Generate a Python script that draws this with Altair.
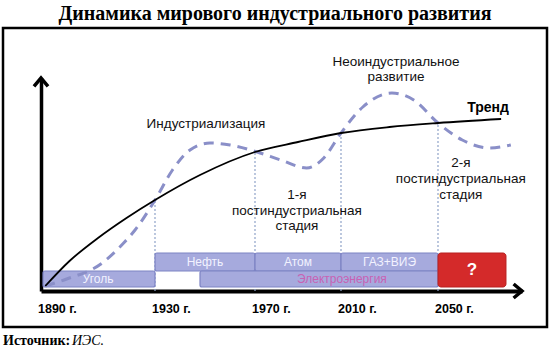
import altair as alt
import pandas as pd

# ---- data (years, arbitrary level units) ----
trend_year = [1891.5, 1900, 1910, 1920, 1930, 1948, 1970, 1990, 2010, 2030, 2050, 2076]
trend_level = [5, 30, 53, 73, 91, 116, 139, 149, 158, 164, 168, 172]

wave_year = [1891.5, 1899, 1911, 1919, 1923, 1930, 1937, 1944, 1952, 1960, 1971, 1982,
             1994, 2002, 2010, 2019, 2031, 2040, 2050, 2060, 2071, 2080]
wave_level = [5, 12, 27, 48, 61, 91, 121, 141, 148, 146, 139, 131,
              123, 133, 158, 184, 198, 191, 168, 151, 143, 146]

tick_years = [1890, 1930, 1970, 2010, 2050]
tick_labels = ["1890 г.", "1930 г.", "1970 г.", "2010 г.", "2050 г."]

stage_years = [1930, 1970, 2010, 2050]
stage_levels = [91, 139, 158, 168]

bar_names = ["Уголь", "Нефть", "Атом", "ГАЗ+ВИЭ", "Электроэнергия"]
bar_start = [1890.7, 1930, 1970, 2010, 1948]
bar_end = [1930, 1970, 2010, 2050, 2050]
bar_lo = [4, 20, 20, 20, 4]
bar_hi = [20, 38, 38, 38, 20]
bar_label_year = [1910, 1950, 1990, 2030, 2010.4]

future_start, future_end, future_lo, future_hi = 2050, 2078, 4, 38

ann_text = ["Индустриализация", "1-я", "постиндустриальная", "стадия",
            "Неоиндустриальное", "развитие",
            "2-я", "постиндустриальная", "стадия"]
ann_year = [1950.4, 1989.5, 1989.5, 1989.5, 2032.7, 2032.7, 2059.4, 2059.4, 2059.4]
ann_level = [167, 96, 80, 65, 229, 214, 128, 112, 96]

# ---- scales ----
xs = alt.Scale(domain=[1890, 1930, 1970, 2010, 2050, 2084.6],
               range=[0, 114, 214, 300, 397, 481], nice=False, zero=False)
ys = alt.Scale(domain=[0, 213], nice=False, zero=False)
xaxis = alt.Axis(title=None, labels=False, ticks=False, grid=False, domain=True,
                 domainColor="black", domainWidth=4)
yaxis = alt.Axis(title=None, labels=False, ticks=False, grid=False, domain=True,
                 domainColor="black", domainWidth=3.5)


def X(f):
    return alt.X(f, type="quantitative", scale=xs, axis=xaxis)


def Y(f):
    return alt.Y(f, type="quantitative", scale=ys, axis=yaxis)


trend_df = pd.DataFrame({"year": trend_year, "level": trend_level})
wave_df = pd.DataFrame({"year": wave_year, "level": wave_level})
tick_df = pd.DataFrame({"year": tick_years, "label": tick_labels})
stage_df = pd.DataFrame({"year": stage_years, "level": stage_levels, "base": [0] * 4})
bar_df = pd.DataFrame({"name": bar_names, "x0": bar_start, "x1": bar_end,
                       "lo": bar_lo, "hi": bar_hi, "lx": bar_label_year,
                       "ly": [(a + b) / 2 for a, b in zip(bar_lo, bar_hi)]})
fut_df = pd.DataFrame({"x0": [future_start], "x1": [future_end], "lo": [future_lo],
                       "hi": [future_hi], "lx": [(future_start + future_end) / 2],
                       "ly": [(future_lo + future_hi) / 2], "t": ["?"]})
ann_df = pd.DataFrame({"t": ann_text, "year": ann_year, "level": ann_level})
one = pd.DataFrame({"a": [0]})

stage_rules = alt.Chart(stage_df).mark_rule(color="#8fa3c8", strokeWidth=1.2,
                                             strokeDash=[2, 2]).encode(
    x=X("year"), y=Y("base"), y2="level")

bars = alt.Chart(bar_df).mark_rect(fill="#a6aadd", stroke="#7d83c4", strokeWidth=1.2,
                                   cornerRadius=2).encode(
    x=X("x0"), x2="x1", y=Y("lo"), y2="hi")

bar_text = alt.Chart(bar_df).mark_text(font="Liberation Sans", fontSize=12,
                                       baseline="middle").encode(
    x=X("lx"), y=Y("ly"), text="name",
    color=alt.condition(alt.datum.name == "Электроэнергия",
                        alt.value("#c862b4"), alt.value("#f2f2ff")))

fut = alt.Chart(fut_df).mark_rect(fill="#d42a2a", stroke="#b82020", strokeWidth=1,
                                  cornerRadius=3).encode(
    x=X("x0"), x2="x1", y=Y("lo"), y2="hi")
fut_text = alt.Chart(fut_df).mark_text(font="Liberation Sans", fontSize=17,
                                       fontWeight="bold", color="white",
                                       baseline="middle").encode(
    x=X("lx"), y=Y("ly"), text="t")

wave = alt.Chart(wave_df).mark_line(color="#8a8fc8", strokeWidth=3, strokeDash=[10, 7],
                                    interpolate="monotone").encode(
    x=X("year"), y=Y("level"))

trend = alt.Chart(trend_df).mark_line(color="black", strokeWidth=1.8,
                                      interpolate="monotone").encode(
    x=X("year"), y=Y("level"))

ticks = alt.Chart(tick_df).mark_text(font="Liberation Sans", fontSize=12.5,
                                     fontWeight="bold", align="left",
                                     baseline="alphabetic", dx=-3).encode(
    x=X("year"), y=alt.value(235), text="label")

ann = alt.Chart(ann_df).mark_text(font="Liberation Sans", fontSize=13.5,
                                  baseline="middle", color="#111").encode(
    x=X("year"), y=Y("level"), text="t")

trend_lbl = alt.Chart(pd.DataFrame({"t": ["Тренд"], "year": [2070.6], "level": [183]})) \
    .mark_text(font="Liberation Sans", fontSize=14, fontWeight="bold",
               baseline="middle").encode(x=X("year"), y=Y("level"), text="t")

arrow_df = pd.DataFrame({"year": [2084.6, 1890], "level": [0, 213], "dir": ["r", "u"]})
arrow_r = alt.Chart(arrow_df[arrow_df.dir == "r"]).mark_point(
    shape="M-1.2,-1L0,0L-1.2,1", size=196, filled=False, stroke="black",
    strokeWidth=3.5, opacity=1, strokeJoin="miter").encode(x=X("year"), y=Y("level"))
arrow_u = alt.Chart(arrow_df[arrow_df.dir == "u"]).mark_point(
    shape="M-1,1.2L0,0L1,1.2", size=196, filled=False, stroke="black",
    strokeWidth=3.5, opacity=1, strokeJoin="miter").encode(x=X("year"), y=Y("level"))

frame = alt.Chart(one).mark_rect(fillOpacity=0, stroke="black", strokeWidth=2.5).encode(
    x=alt.value(-38), x2=alt.value(506), y=alt.value(-50), y2=alt.value(249))

title = alt.Chart(pd.DataFrame({"t": ["Динамика мирового индустриального развития"]})) \
    .mark_text(font="Liberation Serif", fontSize=20, fontWeight="bold",
               baseline="alphabetic", align="center").encode(
    x=alt.value(234), y=alt.value(-58), text="t")

src1 = alt.Chart(pd.DataFrame({"t": ["Источник:"]})).mark_text(
    font="Liberation Serif", fontSize=14, fontWeight="bold", align="left",
    baseline="alphabetic").encode(x=alt.value(-38), y=alt.value(267), text="t")
src2 = alt.Chart(pd.DataFrame({"t": ["ИЭС."]})).mark_text(
    font="Liberation Serif", fontSize=14, fontStyle="italic", align="left",
    baseline="alphabetic").encode(x=alt.value(31), y=alt.value(267), text="t")

chart = alt.layer(
    stage_rules, bars, bar_text, fut, fut_text, wave, trend, ticks, ann, trend_lbl,
    arrow_r, arrow_u, frame, title, src1, src2
).properties(
    width=481, height=213,
    autosize=alt.AutoSizeParams(type="none"),
    padding={"left": 41, "top": 78, "right": 28, "bottom": 60},
    background="white"
).configure_view(stroke=None)

chart.save("out.html", embed_options={"renderer": "svg", "actions": False})
